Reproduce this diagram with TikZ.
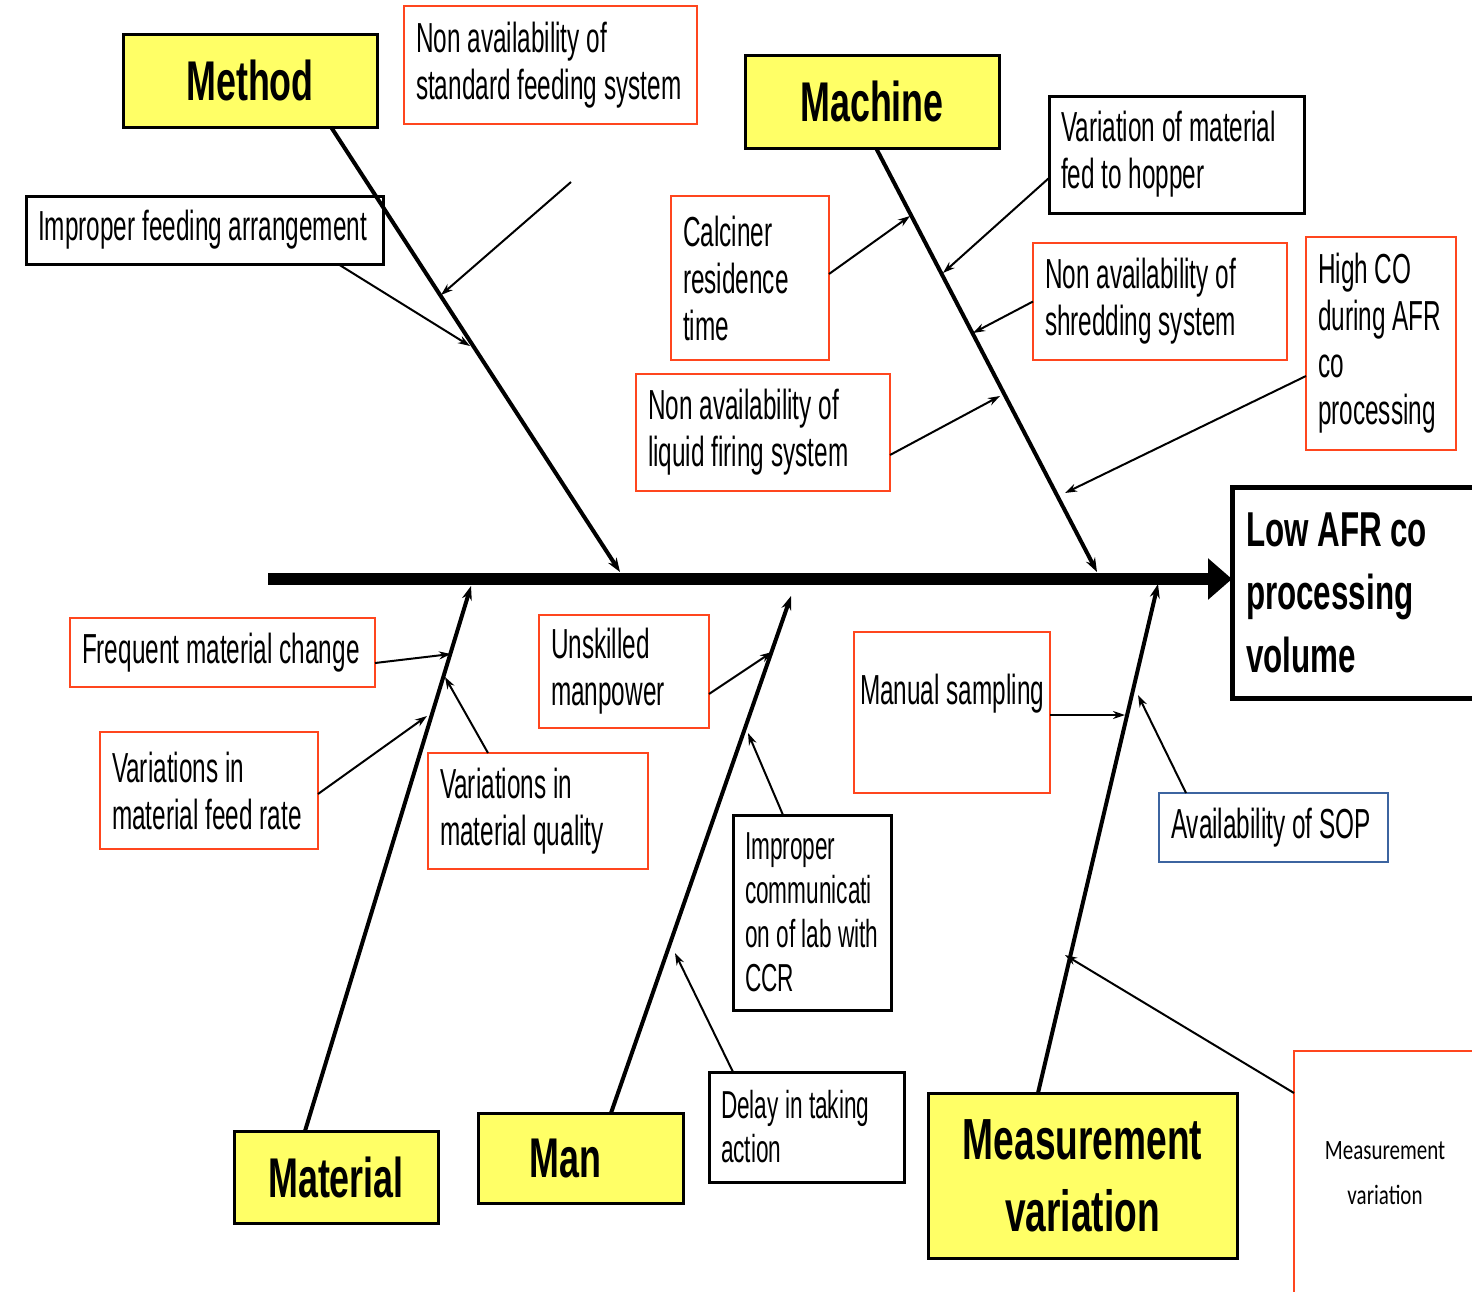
\documentclass[tikz,border=0pt]{standalone}
\usepackage{fontspec}
\setmainfont{Liberation Sans}[FakeStretch=0.58]
\newfontfamily\hfont{Liberation Sans}[FakeStretch=0.64]
\newfontfamily\cfont{Carlito}[FakeStretch=0.75]
\newcommand\ws{\hspace*{6.8pt}}
\newcommand\wt{\hspace*{6.3pt}}
\newcommand\wb{\hspace*{8.7pt}}
\usetikzlibrary{arrows.meta}
\definecolor{catyellow}{RGB}{255,255,102}
\definecolor{bred}{RGB}{255,70,30}
\definecolor{bblue}{RGB}{60,100,160}
\begin{document}
\begin{tikzpicture}[x=1pt,y=-1pt,
  cb/.style={draw=#1, line width=2.5pt, fill=white, anchor=north west, outer sep=0pt,
    inner xsep=12pt, inner ysep=0pt, align=left, font=\fontsize{42}{47}\selectfont},
  cbs/.style={cb=#1, line width=3pt, font=\fontsize{39}{44}\selectfont},
  cat/.style={draw=black, line width=3pt, fill=catyellow, anchor=north west, outer sep=0pt,
    inner sep=0pt, align=center, font=\hfont\bfseries\fontsize{56}{72}\selectfont},
  bone/.style={line width=4pt, -{Stealth[length=14pt,width=10pt]}},
  carr/.style={line width=2pt, -{Stealth[length=12pt,width=8pt]}}]
\useasboundingbox (0,0) rectangle (1472,1291);
\fill[white] (0,0) rectangle (1472,1291);

% effect
\node[draw, line width=5pt, fill=white, anchor=north west, outer sep=0pt, minimum width=262pt,
  minimum height=211pt, text width=234pt, inner xsep=14pt, inner ysep=0pt, align=left,
  font=\hfont\bfseries\fontsize{49}{63}\selectfont] (eff) at (1232,487)
  {\mbox{Low\wb AFR\wb co}\\processing\\volume};

% categories
\node[cat, minimum width=254pt, minimum height=93pt] (method) at (123,34) {Method};
\node[cat, minimum width=254pt, minimum height=93pt] (machine) at (745,55) {Machine};
\node[cat, minimum width=204pt, minimum height=92pt] (material) at (234,1131) {Material};
\node[cat, minimum width=205pt, minimum height=90pt] (man) at (478,1113) {Man\hspace*{30pt}};
\node[cat, minimum width=309pt, minimum height=165pt, font=\hfont\bfseries\fontsize{58}{72}\selectfont] (meas) at (928,1093) {Measurement\\variation};

% causes
\node[cb=bred, text width=269pt, minimum height=118pt] (sfs) at (404,6)
  {\mbox{Non\ws availability\ws of}\\\mbox{standard\ws feeding\ws system}};
\node[cb=black, line width=3pt, text width=333pt, minimum height=68pt] (ifa) at (26,196)
  {\mbox{Improper\ws feeding\ws arrangement}};
\node[cb=bred, text width=134pt, minimum height=164pt] (cal) at (671,196)
  {\mbox{Calciner}\\\mbox{residence}\\\mbox{time}};
\node[cb=black, line width=3pt, text width=231pt, minimum height=117pt] (vmf) at (1049,96)
  {\mbox{Variation\ws of\ws material}\\\mbox{fed\ws to\ws hopper}};
\node[cb=bred, text width=230pt, minimum height=117pt] (shr) at (1033,243)
  {\mbox{Non\ws availability\ws of}\\\mbox{shredding\ws system}};
\node[cb=bred, text width=230pt, minimum height=117pt] (lfs) at (636,374)
  {\mbox{Non\ws availability\ws of}\\\mbox{liquid\ws firing\ws system}};
\node[cb=bred, text width=126pt, minimum height=213pt] (hco) at (1306,237)
  {\mbox{High\ws CO}\\\mbox{during\ws AFR}\\\mbox{co}\\\mbox{processing}};
\node[cb=bred, text width=281pt, minimum height=69pt] (fmc) at (70,618)
  {\mbox{Frequent\ws material\ws change}};
\node[cb=bred, text width=194pt, minimum height=117pt] (vfr) at (100,732)
  {\mbox{Variations\ws in}\\\mbox{material\ws feed\ws rate}};
\node[cb=bred, text width=196pt, minimum height=116pt] (vmq) at (428,753)
  {\mbox{Variations\ws in}\\\mbox{material\ws quality}};
\node[cb=bred, text width=146pt, minimum height=113pt] (unm) at (539,615)
  {\mbox{Unskilled}\\\mbox{manpower}};
\node[cbs=black, text width=134pt, minimum height=195pt] (icl) at (733,815)
  {\mbox{Improper}\\\mbox{communicati}\\\mbox{on\wt of\wt lab\wt with}\\\mbox{CCR}};
\node[cbs=black, text width=171pt, minimum height=110pt] (dta) at (709,1072)
  {\mbox{Delay\wt in\wt taking}\\\mbox{action}};
\node[cb=bred, inner xsep=6pt, text width=184pt, minimum height=161pt] (msa) at (854,632)
  {\mbox{Manual\ws sampling}\\\mbox{}};
\node[cb=bblue, text width=205pt, minimum height=69pt] (sop) at (1159,793)
  {\mbox{Availability\ws of\ws SOP}};
\node[draw=bred, line width=2.5pt, fill=white, anchor=north west, outer sep=0pt, inner sep=0pt,
  minimum width=182pt, minimum height=245pt, align=center,
  font=\cfont\fontsize{28}{45}\selectfont] (mvs) at (1294,1051) {Measurement\\variation};

% spine
\coordinate (sp0) at (268,579);
\draw[line width=12pt, -{Triangle[length=24pt,width=40pt]}] (sp0) -- (sp0 -| eff.west);

% bones
\coordinate (MeT) at (620,572);
\coordinate (MaT) at (1097,572);
\coordinate (MtT) at (471,586);
\coordinate (MnT) at (791,596);
\coordinate (MsT) at (1158,584);
\draw[bone] ([xshift=81pt]method.south) -- (MeT);
\draw[bone] ([xshift=4pt]machine.south) -- (MaT);
\draw[bone] ([xshift=-31pt]material.north) -- (MtT);
\draw[bone] ([xshift=30.5pt]man.north) -- (MnT);
\draw[bone] ([xshift=-44.5pt]meas.north) -- (MsT);

% cause arrows
\coordinate (s1) at (571,182);
\coordinate (t1) at (441,295);
\coordinate (t2) at (470,346);
\coordinate (t3) at (910,216);
\coordinate (t4) at (943,273);
\coordinate (t5) at (973,333);
\coordinate (t6) at (1000,396);
\coordinate (t7) at (1065,493);
\coordinate (t8) at (451,654);
\coordinate (t9) at (427,716);
\coordinate (t10) at (445,677);
\coordinate (t11) at (772,652);
\coordinate (t12) at (748,733);
\coordinate (t13) at (675,953);
\coordinate (t14) at (1125,715);
\coordinate (t15) at (1138,695);
\coordinate (t16) at (1065,955);
\draw[carr] (s1) -- (t1);
\draw[carr] ([xshift=133.5pt]ifa.south) -- (t2);
\draw[carr] ([yshift=4pt]cal.east) -- (t3);
\draw[carr] ([yshift=-23.5pt]vmf.west) -- (t4);
\draw[carr] (shr.west) -- (t5);
\draw[carr] ([yshift=-22.5pt]lfs.east) -- (t6);
\draw[carr] ([yshift=-32.5pt]hco.west) -- (t7);
\draw[carr] ([yshift=-10.5pt]fmc.east) -- (t8);
\draw[carr] ([yshift=-3.5pt]vfr.east) -- (t9);
\draw[carr] ([xshift=-50pt]vmq.north) -- (t10);
\draw[carr] ([yshift=-22.5pt]unm.east) -- (t11);
\draw[carr] ([xshift=-29pt]icl.north) -- (t12);
\draw[carr] ([xshift=-73.5pt]dta.north) -- (t13);
\draw[carr] ([yshift=-2.5pt]msa.east) -- (t14);
\draw[carr] ([xshift=-87.5pt]sop.north) -- (t15);
\draw[carr] ([yshift=80.5pt]mvs.west) -- (t16);
\end{tikzpicture}
\end{document}
